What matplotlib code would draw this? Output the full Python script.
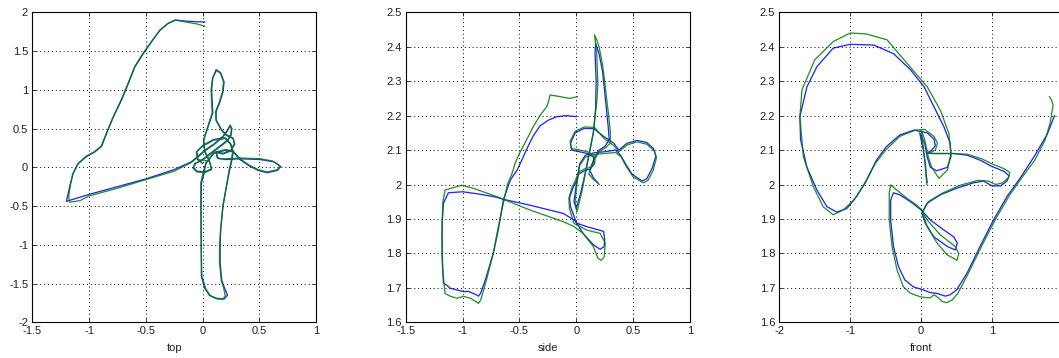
import matplotlib
matplotlib.use("Agg")
import matplotlib.pyplot as plt
from matplotlib.ticker import FuncFormatter

# ---------------- data ----------------
panel_labels = ["top", "side", "front"]

# top view (x, y)
top_blue = [
    (0.02, 1.875), (-0.05, 1.878), (-0.14, 1.885), (-0.24, 1.9), (-0.3, 1.86), (-0.375, 1.77),
    (-0.45, 1.62), (-0.52, 1.47), (-0.595, 1.30), (-0.654, 1.08), (-0.713, 0.87), (-0.786, 0.65),
    (-0.845, 0.44), (-0.889, 0.27), (-0.948, 0.2), (-1.02, 0.14), (-1.095, 0.05), (-1.14, -0.08),
    (-1.168, -0.23), (-1.19, -0.38), (-1.2, -0.44), (-1.0, -0.35), (-0.75, -0.25), (-0.5, -0.15),
    (-0.25, -0.03), (-0.1, 0.07), (-0.05, 0.13), (0.02, 0.22), (0.1, 0.3), (0.18, 0.4), (0.22, 0.48),
    (0.24, 0.535), (0.255, 0.5), (0.25, 0.42), (0.22, 0.35), (0.15, 0.27), (0.07, 0.18), (0.0, 0.1),
    (-0.06, 0.05), (-0.08, 0.0), (-0.05, -0.05), (0.02, -0.06), (0.08, -0.02), (0.06, 0.08),
    (0.02, 0.2), (0.01, 0.35), (0.05, 0.53), (0.09, 0.7), (0.085, 0.85), (0.08, 1.0), (0.09, 1.15),
    (0.12, 1.26), (0.16, 1.22), (0.19, 1.1), (0.18, 0.97), (0.15, 0.83), (0.12, 0.72), (0.12, 0.61),
    (0.17, 0.48), (0.21, 0.42), (0.27, 0.375), (0.28, 0.3), (0.25, 0.22), (0.18, 0.18), (0.12, 0.2),
    (0.13, 0.12), (0.2, 0.1), (0.33, 0.11), (0.51, 0.1), (0.63, 0.07), (0.69, 0.01), (0.66, -0.04),
    (0.57, -0.07), (0.49, -0.04), (0.41, 0.02), (0.33, 0.1), (0.27, 0.2), (0.2, 0.22), (0.1, 0.18),
    (0.03, 0.05), (0.01, -0.1), (-0.01, -0.2), (-0.013, -0.5), (-0.013, -0.9), (-0.01, -1.2),
    (-0.01, -1.41), (0.02, -1.56), (0.06, -1.65), (0.12, -1.69), (0.19, -1.7), (0.22, -1.65),
    (0.2, -1.58), (0.17, -1.46), (0.155, -1.23), (0.155, -1.0), (0.16, -0.8), (0.18, -0.5),
    (0.21, -0.25), (0.24, -0.03), (0.26, 0.1), (0.27, 0.2), (0.25, 0.3), (0.2, 0.38), (0.1, 0.36),
    (0.0, 0.28), (-0.05, 0.2), (-0.04, 0.1), (0.0, 0.05),
]
top_green = [
    (0.02, 1.82), (-0.05, 1.85), (-0.15, 1.875), (-0.24, 1.9), (-0.31, 1.85), (-0.38, 1.76),
    (-0.455, 1.61), (-0.53, 1.46), (-0.6, 1.29), (-0.66, 1.07), (-0.72, 0.86), (-0.79, 0.64),
    (-0.85, 0.43), (-0.895, 0.27), (-0.955, 0.2), (-1.03, 0.14), (-1.1, 0.04), (-1.145, -0.09),
    (-1.165, -0.24), (-1.18, -0.38), (-1.17, -0.45), (-1.08, -0.43), (-1.0, -0.37), (-0.75, -0.27),
    (-0.5, -0.16), (-0.25, -0.05), (-0.1, 0.06), (-0.05, 0.12), (0.02, 0.21), (0.1, 0.29),
    (0.18, 0.39), (0.22, 0.47), (0.245, 0.545), (0.26, 0.5), (0.25, 0.41), (0.22, 0.34),
    (0.15, 0.26), (0.07, 0.17), (0.0, 0.09), (-0.07, 0.05), (-0.085, -0.01), (-0.05, -0.06),
    (0.02, -0.07), (0.08, -0.03), (0.06, 0.09), (0.02, 0.21), (0.01, 0.36), (0.05, 0.54),
    (0.085, 0.7), (0.08, 0.86), (0.075, 1.0), (0.09, 1.16), (0.125, 1.25), (0.16, 1.21),
    (0.185, 1.1), (0.175, 0.97), (0.145, 0.83), (0.115, 0.72), (0.12, 0.6), (0.17, 0.47),
    (0.21, 0.41), (0.27, 0.37), (0.285, 0.3), (0.25, 0.21), (0.18, 0.17), (0.12, 0.19),
    (0.14, 0.11), (0.2, 0.11), (0.33, 0.12), (0.51, 0.11), (0.62, 0.08), (0.68, 0.02),
    (0.66, -0.03), (0.57, -0.06), (0.49, -0.03), (0.41, 0.03), (0.33, 0.11), (0.27, 0.21),
    (0.2, 0.23), (0.1, 0.19), (0.03, 0.06), (0.0, -0.1), (-0.015, -0.2), (-0.015, -0.5),
    (-0.01, -0.9), (-0.01, -1.2), (-0.005, -1.41), (0.03, -1.57), (0.07, -1.66), (0.13, -1.7),
    (0.18, -1.7), (0.2, -1.66), (0.19, -1.58), (0.165, -1.46), (0.15, -1.23), (0.15, -1.0),
    (0.16, -0.8), (0.18, -0.5), (0.21, -0.25), (0.235, -0.03), (0.255, 0.1), (0.265, 0.2),
    (0.245, 0.3), (0.2, 0.37), (0.1, 0.35), (0.0, 0.27), (-0.055, 0.2), (-0.045, 0.1),
    (0.05, 0.08),
]

# side view (x, z)
side_blue = [
    (0.0, 2.197), (-0.085, 2.2), (-0.17, 2.197), (-0.245, 2.187), (-0.32, 2.17), (-0.38, 2.14),
    (-0.44, 2.1), (-0.48, 2.07), (-0.52, 2.042), (-0.58, 2.013), (-0.64, 1.957), (-0.686, 1.868),
    (-0.73, 1.8), (-0.8, 1.723), (-0.84, 1.685), (-0.86, 1.676), (-0.88, 1.68), (-0.95, 1.69),
    (-0.99, 1.689), (-1.11, 1.699), (-1.14, 1.708), (-1.168, 1.713), (-1.18, 1.79), (-1.18, 1.887),
    (-1.168, 1.945), (-1.125, 1.976), (-1.0, 1.979), (-0.85, 1.972), (-0.7, 1.963), (-0.64, 1.957),
    (-0.407, 1.94), (-0.114, 1.916), (-0.02, 1.897), (0.01, 1.887), (0.09, 1.878), (0.24, 1.864),
    (0.25, 1.84), (0.245, 1.82), (0.21, 1.812), (0.15, 1.825), (0.06, 1.858), (0.0, 1.89),
    (-0.05, 1.935), (-0.06, 1.96), (-0.03, 1.99), (0.0, 2.01), (0.02, 2.03), (0.07, 2.04),
    (0.12, 2.045), (0.16, 2.06), (0.15, 2.08), (0.1, 2.09), (0.03, 2.095), (-0.04, 2.1),
    (-0.05, 2.12), (-0.01, 2.15), (0.07, 2.163), (0.155, 2.162), (0.24, 2.14), (0.33, 2.12),
    (0.374, 2.1), (0.447, 2.12), (0.535, 2.128), (0.62, 2.122), (0.68, 2.104), (0.7, 2.083),
    (0.667, 2.047), (0.62, 2.017), (0.58, 2.01), (0.49, 2.03), (0.433, 2.06), (0.39, 2.085),
    (0.345, 2.1), (0.243, 2.095), (0.155, 2.092), (0.08, 2.085), (0.03, 2.06), (0.0, 2.0),
    (-0.02, 1.95), (0.0, 1.93), (0.05, 1.99), (0.09, 2.05), (0.12, 2.1), (0.15, 2.15),
    (0.17, 2.22), (0.175, 2.3), (0.165, 2.38), (0.17, 2.41), (0.2, 2.38), (0.23, 2.33),
    (0.245, 2.285), (0.265, 2.22), (0.28, 2.17), (0.29, 2.13), (0.25, 2.11), (0.2, 2.1),
    (0.15, 2.07), (0.12, 2.04), (0.15, 2.02), (0.2, 2.0),
]
side_green = [
    (0.01, 2.255), (-0.06, 2.25), (-0.14, 2.255), (-0.23, 2.26), (-0.245, 2.24), (-0.26, 2.226),
    (-0.32, 2.2), (-0.38, 2.167), (-0.44, 2.128), (-0.5, 2.09), (-0.54, 2.06), (-0.567, 2.03),
    (-0.606, 2.0), (-0.63, 1.963), (-0.69, 1.87), (-0.73, 1.8), (-0.79, 1.723), (-0.84, 1.665),
    (-0.86, 1.655), (-0.93, 1.67), (-0.99, 1.675), (-1.05, 1.67), (-1.11, 1.676), (-1.154, 1.684),
    (-1.175, 1.752), (-1.18, 1.848), (-1.175, 1.945), (-1.154, 1.984), (-1.007, 1.998),
    (-0.905, 1.989), (-0.7, 1.965), (-0.64, 1.957), (-0.407, 1.926), (-0.114, 1.892),
    (-0.02, 1.878), (0.06, 1.858), (0.15, 1.82), (0.19, 1.786), (0.22, 1.78), (0.245, 1.79),
    (0.255, 1.83), (0.21, 1.858), (0.09, 1.868), (-0.02, 1.887), (-0.06, 1.93), (-0.065, 1.96),
    (-0.04, 1.99), (-0.01, 2.01), (0.02, 2.035), (0.07, 2.045), (0.12, 2.05), (0.165, 2.065),
    (0.155, 2.085), (0.1, 2.095), (0.03, 2.1), (-0.045, 2.105), (-0.055, 2.125), (-0.01, 2.155),
    (0.07, 2.167), (0.16, 2.166), (0.24, 2.135), (0.33, 2.113), (0.374, 2.095), (0.447, 2.115),
    (0.535, 2.124), (0.62, 2.117), (0.685, 2.098), (0.705, 2.078), (0.675, 2.04), (0.63, 2.012),
    (0.59, 2.005), (0.5, 2.022), (0.44, 2.052), (0.395, 2.08), (0.345, 2.093), (0.243, 2.09),
    (0.155, 2.087), (0.08, 2.08), (0.03, 2.055), (0.005, 2.0), (-0.01, 1.95), (0.005, 1.92),
    (0.05, 1.98), (0.09, 2.052), (0.15, 2.15), (0.18, 2.24), (0.19, 2.29), (0.18, 2.38),
    (0.16, 2.435), (0.18, 2.42), (0.2, 2.4), (0.23, 2.35), (0.25, 2.3), (0.27, 2.24),
    (0.285, 2.2), (0.3, 2.15), (0.3, 2.12), (0.25, 2.105), (0.2, 2.095), (0.14, 2.06),
    (0.11, 2.03), (0.15, 2.015), (0.19, 2.005),
]

# front view (y, z)
front_blue = [
    (1.88, 2.2), (1.78, 2.147), (1.59, 2.08), (1.40, 2.02), (1.21, 1.965), (1.02, 1.897),
    (0.83, 1.82), (0.645, 1.742), (0.5, 1.694), (0.41, 1.68), (0.34, 1.676), (0.22, 1.684),
    (0.13, 1.686), (0.03, 1.694), (-0.11, 1.703), (-0.23, 1.723), (-0.32, 1.762), (-0.39, 1.82),
    (-0.43, 1.897), (-0.43, 1.955), (-0.39, 1.976), (-0.30, 1.97), (-0.15, 1.95), (0.0, 1.926),
    (0.13, 1.897), (0.32, 1.868), (0.46, 1.848), (0.51, 1.83), (0.48, 1.81), (0.37, 1.82),
    (0.18, 1.848), (0.06, 1.887), (0.01, 1.916), (0.08, 1.945), (0.27, 1.97), (0.51, 1.99),
    (0.74, 2.005), (0.88, 2.01), (1.0, 1.996), (1.12, 1.996), (1.21, 2.01), (1.24, 2.025),
    (1.17, 2.038), (0.98, 2.054), (0.84, 2.07), (0.65, 2.085), (0.46, 2.09), (0.18, 2.09),
    (0.09, 2.092), (0.15, 2.1), (0.2, 2.113), (0.18, 2.132), (0.085, 2.15), (-0.056, 2.156),
    (-0.1, 2.158), (-0.3, 2.144), (-0.49, 2.11), (-0.63, 2.071), (-0.77, 2.013), (-0.91, 1.965),
    (-1.05, 1.93), (-1.19, 1.92), (-1.33, 1.936), (-1.47, 1.984), (-1.61, 2.05), (-1.70, 2.13),
    (-1.71, 2.197), (-1.61, 2.284), (-1.47, 2.342), (-1.24, 2.396), (-1.0, 2.407), (-0.67, 2.405),
    (-0.39, 2.38), (-0.15, 2.333), (0.04, 2.284), (0.18, 2.226), (0.32, 2.168), (0.41, 2.12),
    (0.42, 2.081), (0.37, 2.05), (0.22, 2.04), (0.13, 2.05), (0.085, 2.08), (0.05, 2.12),
    (-0.02, 2.15), (0.03, 2.1), (0.06, 2.06), (0.07, 2.03), (0.085, 2.006),
]
front_green = [
    (1.81, 2.255), (1.84, 2.245), (1.86, 2.23), (1.82, 2.18), (1.75, 2.13), (1.6, 2.07),
    (1.42, 2.02), (1.25, 1.97), (1.05, 1.9), (0.85, 1.82), (0.66, 1.74), (0.52, 1.685),
    (0.44, 1.665), (0.36, 1.657), (0.3, 1.66), (0.22, 1.675), (0.18, 1.68), (0.13, 1.671),
    (0.05, 1.672), (-0.01, 1.674), (-0.15, 1.684), (-0.25, 1.703), (-0.34, 1.752), (-0.41, 1.82),
    (-0.45, 1.897), (-0.45, 1.975), (-0.43, 1.999), (-0.35, 1.985), (-0.2, 1.96), (-0.06, 1.94),
    (0.01, 1.926), (0.085, 1.878), (0.225, 1.83), (0.365, 1.796), (0.505, 1.78), (0.53, 1.8),
    (0.48, 1.82), (0.27, 1.854), (0.085, 1.897), (0.02, 1.92), (0.1, 1.95), (0.3, 1.975),
    (0.55, 1.998), (0.8, 2.012), (0.95, 2.01), (1.05, 2.0), (1.15, 2.005), (1.23, 2.02),
    (1.25, 2.035), (1.18, 2.045), (1.0, 2.06), (0.85, 2.075), (0.65, 2.088), (0.45, 2.09),
    (0.2, 2.09), (0.1, 2.09), (0.2, 2.1), (0.23, 2.12), (0.18, 2.14), (0.05, 2.16),
    (-0.08, 2.158), (-0.3, 2.14), (-0.5, 2.1), (-0.65, 2.06), (-0.8, 2.0), (-0.95, 1.955),
    (-1.1, 1.926), (-1.24, 1.912), (-1.38, 1.935), (-1.52, 1.994), (-1.66, 2.08), (-1.71, 2.197),
    (-1.68, 2.275), (-1.5, 2.362), (-1.24, 2.415), (-1.0, 2.44), (-0.77, 2.437), (-0.48, 2.42),
    (-0.2, 2.352), (0.085, 2.284), (0.27, 2.216), (0.39, 2.149), (0.42, 2.09), (0.37, 2.042),
    (0.25, 2.018), (0.15, 2.05), (0.1, 2.08), (0.05, 2.13), (0.0, 2.16), (0.03, 2.11),
    (0.06, 2.05), (0.08, 2.0),
]

top_xticks = [-1.5, -1, -0.5, 0, 0.5, 1]
top_yticks = [-2, -1.5, -1, -0.5, 0, 0.5, 1, 1.5, 2]
side_xticks = [-1.5, -1, -0.5, 0, 0.5, 1]
z_ticks = [1.6, 1.7, 1.8, 1.9, 2.0, 2.1, 2.2, 2.3, 2.4, 2.5]
front_xticks = [-2, -1, 0, 1]

# ---------------- drawing ----------------
plt.rcParams['font.family'] = ['Liberation Sans', 'DejaVu Sans']
W, H = 1059, 358
fig = plt.figure(figsize=(W / 100, H / 100), dpi=100)

bottom = 1 - 322.3 / H
height = (322.3 - 12.3) / H
rects = [
    (32.3 / W, bottom, (316 - 32.3) / W, height),
    (405.7 / W, bottom, (690 - 405.7) / W, height),
    (779.3 / W, bottom, (1063 - 779.3) / W, height),
]
views = [
    (top_blue, top_green, (-1.5, 1), (-2, 2), top_xticks, top_yticks),
    (side_blue, side_green, (-1.5, 1), (1.6, 2.5), side_xticks, z_ticks),
    (front_blue, front_green, (-2, 2), (1.6, 2.5), front_xticks, z_ticks),
]

fmt = FuncFormatter(lambda v, p: ('%g' % round(v, 4)))

for rect, (blue, green, xl, yl, xt, yt), lab in zip(rects, views, panel_labels):
    ax = fig.add_axes(rect)
    ax.plot([p[0] for p in blue], [p[1] for p in blue], color='#0000ff', lw=0.95, alpha=0.85, zorder=3)
    ax.plot([p[0] for p in green], [p[1] for p in green], color='#008000', lw=0.95, alpha=0.85, zorder=4)
    ax.set_xlim(*xl)
    ax.set_ylim(*yl)
    ax.set_xticks(xt)
    ax.set_yticks(yt)
    ax.xaxis.set_major_formatter(fmt)
    ax.yaxis.set_major_formatter(fmt)
    ax.grid(True, color='black', linestyle=(0, (1, 3)), lw=0.7)
    ax.set_axisbelow(True)
    ax.tick_params(direction='in', top=True, right=True, length=3, width=0.6,
                   labelsize=8, pad=3, colors='#202020')
    for s in ax.spines.values():
        s.set_linewidth(0.8)
        s.set_color('black')
    ax.set_xlabel(lab, fontsize=8, labelpad=5, color='#202020')

fig.savefig('out.png', dpi=100)
